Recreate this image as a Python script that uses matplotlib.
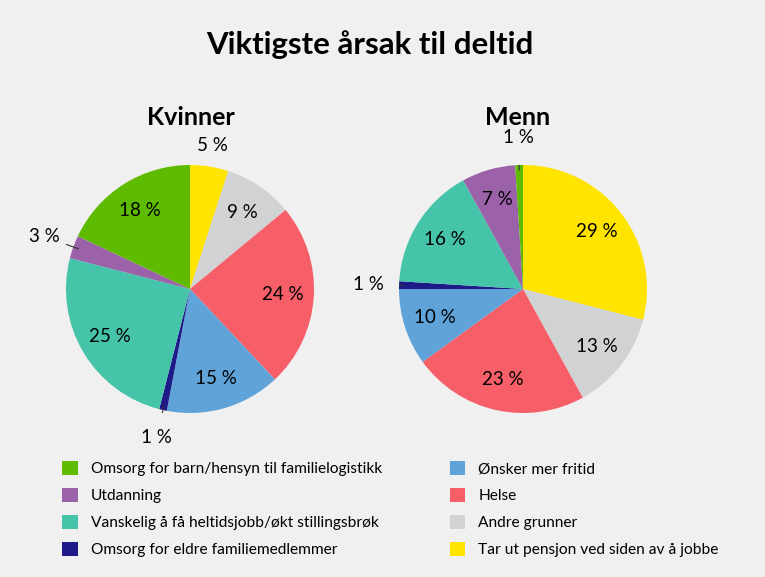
import matplotlib
matplotlib.use('agg')
import matplotlib.pyplot as plt
import numpy as np
from matplotlib.patches import Patch

plt.rcParams['font.family'] = ['Lato', 'DejaVu Sans']

# slices go clockwise from 12 o'clock in this order
categories = [
    'Tar ut pensjon ved siden av å jobbe',
    'Andre grunner',
    'Helse',
    'Ønsker mer fritid',
    'Omsorg for eldre familiemedlemmer',
    'Vanskelig å få heltidsjobb/økt stillingsbrøk',
    'Utdanning',
    'Omsorg for barn/hensyn til familielogistikk',
]
colors = ['#FFE400', '#D1D2D4', '#F65F68', '#5FA3D9', '#1F1A8A', '#45C4A9', '#9B62AA', '#5FBB00']

kvinner = [5, 9, 24, 15, 1, 25, 3, 18]
menn = [29, 13, 23, 10, 1, 16, 7, 1]

W, H = 765, 577
bg = '#F0F0F0'

fig = plt.figure(figsize=(W / 100, H / 100), dpi=100, facecolor=bg)


def pie_axes(cx, cy, r):
    ax = fig.add_axes([(cx - r) / W, (H - cy - r) / H, 2 * r / W, 2 * r / H])
    ax.set_facecolor(bg)
    return ax


def draw_pie(ax, values):
    wedges, _ = ax.pie(values, colors=colors, startangle=90, counterclock=False,
                       radius=1, wedgeprops=dict(linewidth=0))
    for w, v in zip(wedges, values):
        ang = np.deg2rad((w.theta1 + w.theta2) / 2)
        c, s = np.cos(ang), np.sin(ang)
        if v <= 3:
            # small slices: label outside with a short leader line
            ax.plot([0.96 * c, 1.1 * c], [0.96 * s, 1.1 * s], color='#333333', lw=0.8)
            rr = 1.22 + 0.03 * abs(c)
        elif v <= 5:
            rr = 1.17
        else:
            rr = 0.75
        ax.text(rr * c, rr * s, f'{v} %', ha='center', va='center', fontsize=13.5)
    ax.set_xlim(-1, 1)
    ax.set_ylim(-1, 1)
    ax.axis('off')


ax1 = pie_axes(190, 289, 124)
draw_pie(ax1, kvinner)
ax2 = pie_axes(523, 289, 124)
draw_pie(ax2, menn)

fig.text(370 / W, 1 - 45 / H, 'Viktigste årsak til deltid', ha='center', va='center',
         fontsize=22.4, fontweight='bold')
fig.text(191 / W, 1 - 117 / H, 'Kvinner', ha='center', va='center', fontsize=18, fontweight='bold')
fig.text(518 / W, 1 - 117 / H, 'Menn', ha='center', va='center', fontsize=18, fontweight='bold')

order = [7, 6, 5, 4, 3, 2, 1, 0]
handles = [Patch(facecolor=colors[i], edgecolor='none') for i in order]
labels = [categories[i] for i in order]
fig.legend(handles, labels, loc='upper left', bbox_to_anchor=(62 / W, 1 - 461 / H),
           ncol=2, frameon=False, fontsize=11.2, handlelength=1.0, handleheight=1.0,
           handletextpad=0.85, columnspacing=4.35, labelspacing=0.75,
           borderpad=0, borderaxespad=0)

fig.savefig('out.png', dpi=100, facecolor=bg)
